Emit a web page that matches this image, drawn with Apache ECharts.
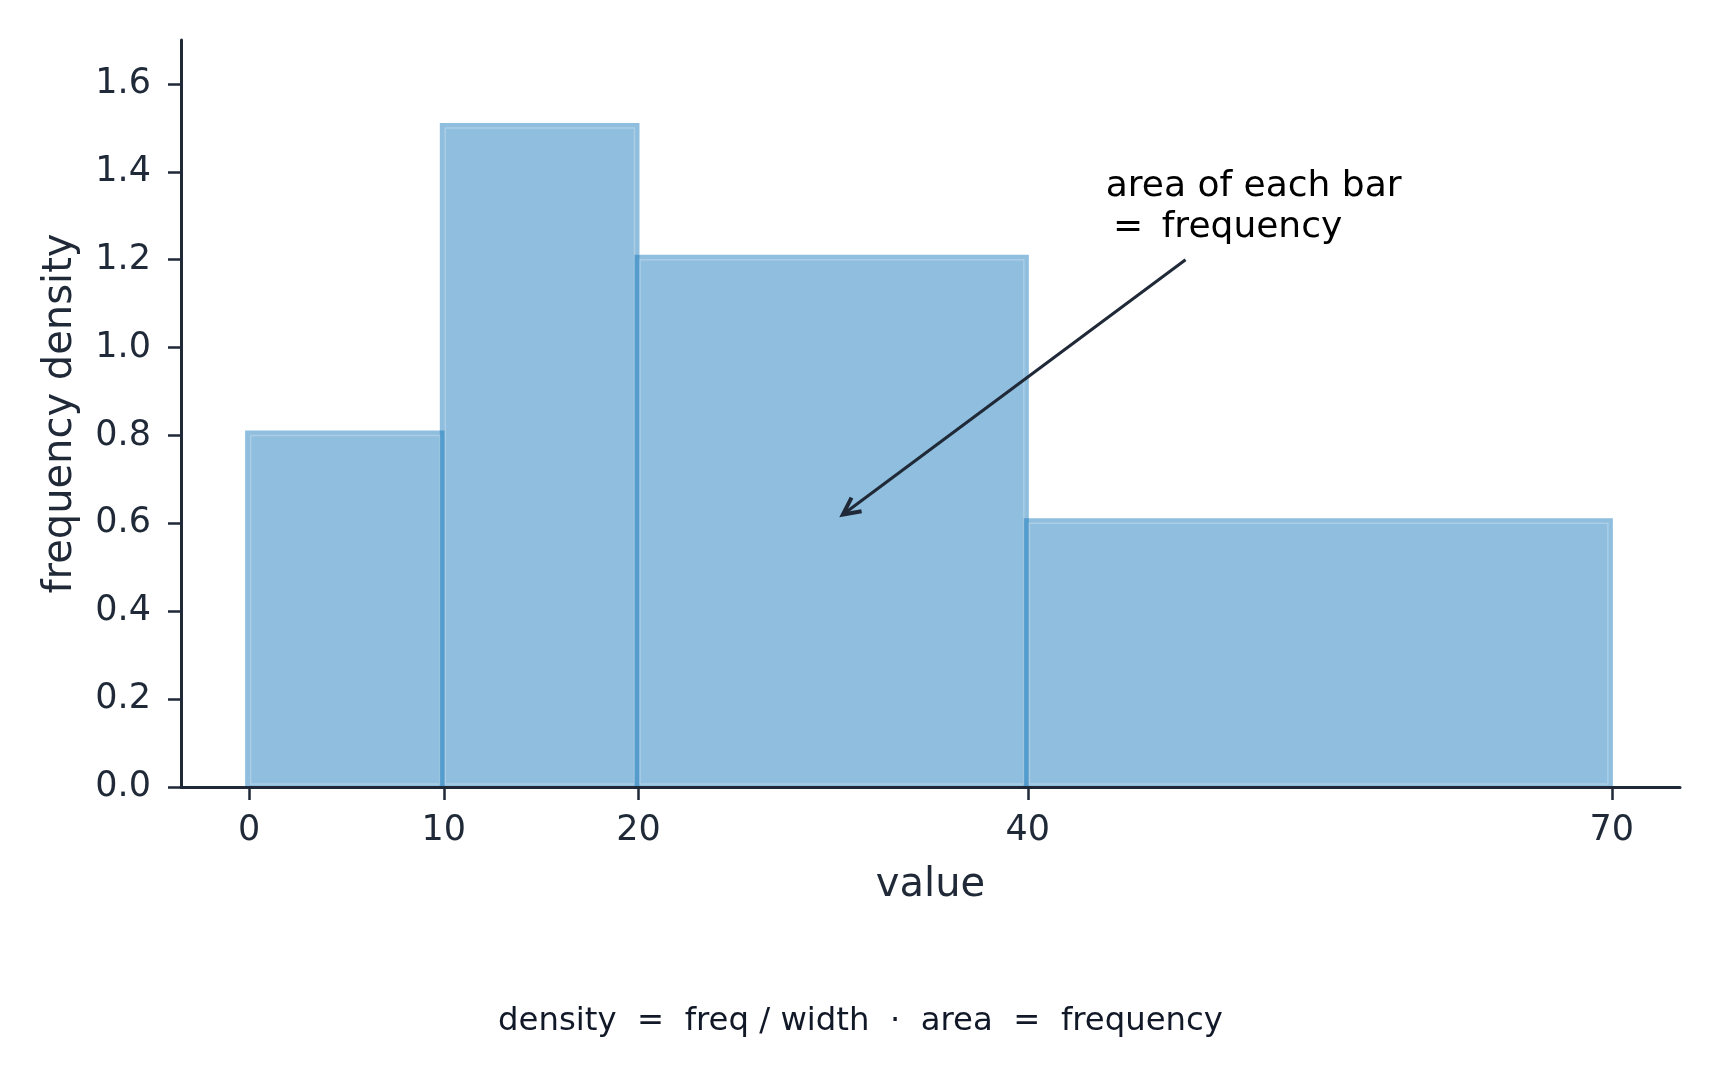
<!DOCTYPE html>
<html>
<head>
<meta charset="utf-8">
<title>frequency density</title>
<script src="https://cdn.jsdelivr.net/npm/echarts@6.0.0/dist/echarts.min.js"></script>
<style>
  html, body { margin: 0; padding: 0; background: #fff; }
  #chart { width: 1721px; height: 1082px; }
</style>
</head>
<body>
<div id="chart"></div>
<script>
// histogram with unequal bins: bar height = freq / width
var binEdges = [0, 10, 20, 40, 70];
var densities = [0.8, 1.5, 1.2, 0.6];
var xTicks = [0, 10, 20, 40, 70];
var yTicks = [0, 0.2, 0.4, 0.6, 0.8, 1.0, 1.2, 1.4, 1.6];

// annotation (data coords)
var noteText = 'area of each bar\n\u2009= \u2009frequency';
var notePos = [44.0, 1.32];
var arrowFrom = [48.1, 1.2];
var arrowTo = [30.5, 0.62];

var captionText = 'density  =  freq / width  \u00b7  area  =  frequency';

var INK = '#1f2937';
var FONT = 'DejaVu Sans';

var bins = densities.map(function (d, i) {
    return [binEdges[i], binEdges[i + 1], d];
});

var chart = echarts.init(document.getElementById('chart'), null, { renderer: 'canvas' });

function renderBar(params, api) {
    var tl = api.coord([api.value(0), api.value(2)]);
    var br = api.coord([api.value(1), 0]);
    return {
        type: 'group',
        children: [{
            type: 'rect',
            shape: { x: tl[0] - 4, y: tl[1] - 5, width: br[0] - tl[0] + 5, height: br[1] - tl[1] + 5 },
            style: { fill: 'rgba(20,120,185,0.48)' }
        }, {
            type: 'rect',
            shape: { x: tl[0] + 1.5, y: tl[1], width: br[0] - tl[0] - 5.5, height: br[1] - tl[1] - 3 },
            style: { fill: null, stroke: 'rgba(255,255,255,0.25)', lineWidth: 1.5 }
        }]
    };
}

function renderNote(params, api) {
    var p0 = api.coord([api.value(0), api.value(1)]);
    var p1 = api.coord([api.value(2), api.value(3)]);
    var t = api.coord([api.value(4), api.value(5)]);
    var ang = Math.atan2(p0[1] - p1[1], p0[0] - p1[0]);
    var len = 19, spread = 0.46;
    var head = [
        [p1[0] + len * Math.cos(ang - spread), p1[1] + len * Math.sin(ang - spread)],
        [p1[0], p1[1]],
        [p1[0] + len * Math.cos(ang + spread), p1[1] + len * Math.sin(ang + spread)]
    ];
    return {
        type: 'group',
        children: [{
            type: 'line',
            shape: { x1: p0[0], y1: p0[1], x2: p1[0], y2: p1[1] },
            style: { stroke: INK, lineWidth: 3 }
        }, {
            type: 'polyline',
            shape: { points: head },
            style: { stroke: INK, lineWidth: 4, fill: null }
        }, {
            type: 'text',
            x: t[0],
            y: t[1],
            style: {
                text: noteText,
                fontFamily: FONT,
                fontSize: 36,
                fill: '#000',
                align: 'left',
                verticalAlign: 'middle',
                lineHeight: 41
            }
        }]
    };
}

var option = {
    animation: false,
    backgroundColor: '#fff',
    grid: { left: 181, right: 41, top: 40, bottom: 295 },
    xAxis: {
        type: 'value',
        min: -3.5,
        max: 73.5,
        z: 5,
        name: 'value',
        nameLocation: 'middle',
        nameGap: 79,
        nameTextStyle: { fontFamily: FONT, fontSize: 40, color: INK },
        axisLine: { show: true, onZero: false, lineStyle: { color: INK, width: 3 } },
        axisTick: { show: true, customValues: xTicks, length: 13, lineStyle: { color: INK, width: 2.5 } },
        axisLabel: { customValues: xTicks, margin: 26, fontFamily: FONT, fontSize: 35, color: INK },
        splitLine: { show: false }
    },
    yAxis: {
        type: 'value',
        min: 0,
        max: 1.7,
        z: 5,
        name: 'frequency density',
        nameLocation: 'middle',
        nameRotate: 90,
        nameGap: 100,
        nameTextStyle: { fontFamily: FONT, fontSize: 40, color: INK },
        axisLine: { show: true, onZero: false, lineStyle: { color: INK, width: 3 } },
        axisTick: { show: true, customValues: yTicks, length: 13, lineStyle: { color: INK, width: 2.5 } },
        axisLabel: {
            customValues: yTicks,
            margin: 30,
            fontFamily: FONT,
            fontSize: 35,
            color: INK,
            formatter: function (v) { return v.toFixed(1); }
        },
        splitLine: { show: false }
    },
    series: [{
        type: 'custom',
        z: 1,
        renderItem: renderBar,
        encode: { x: [0, 1], y: 2 },
        data: bins
    }, {
        type: 'custom',
        z: 6,
        renderItem: renderNote,
        encode: { x: [0, 2, 4], y: [1, 3, 5] },
        data: [[arrowFrom[0], arrowFrom[1], arrowTo[0], arrowTo[1], notePos[0], notePos[1]]]
    }],
    graphic: [{
        type: 'text',
        left: 'center',
        top: 1006,
        style: { text: captionText, fontFamily: FONT, fontSize: 32.3, fill: '#111827' }
    }]
};

chart.setOption(option);
</script>
</body>
</html>
